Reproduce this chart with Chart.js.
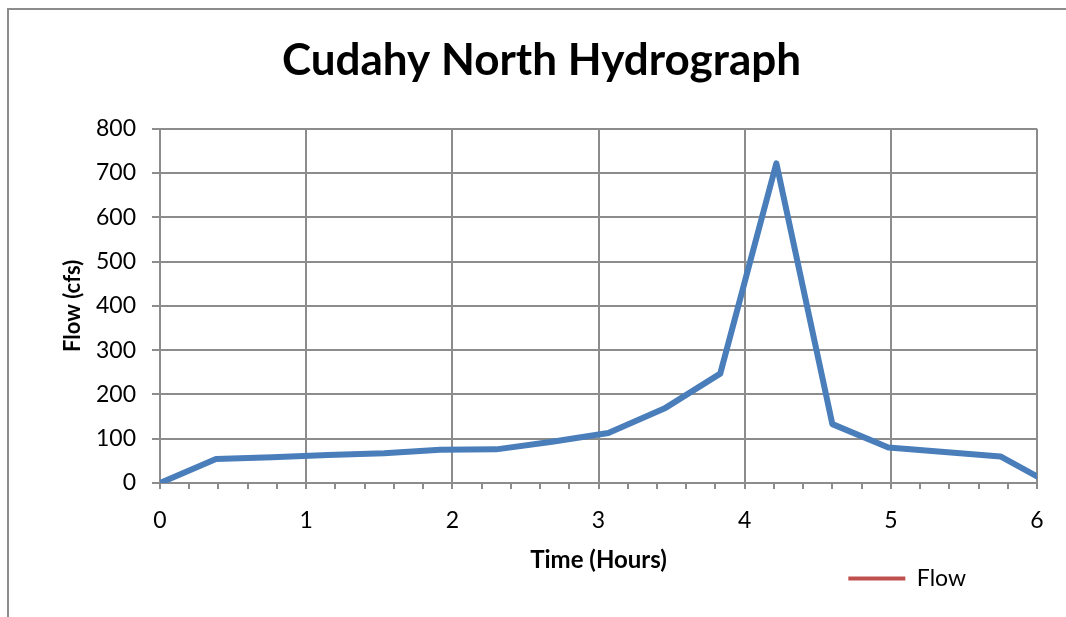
<!DOCTYPE html>
<html>
<head>
<meta charset="utf-8">
<script src="https://cdn.jsdelivr.net/npm/chart.js@4"></script>
<style>
  html, body { margin: 0; padding: 0; background: #fff; overflow: hidden; }
  canvas { display: block; }
</style>
</head>
<body>
<canvas id="Chart" width="1066" height="617"></canvas>
<script>
const timeHours = [0, 0.383, 0.767, 1.15, 1.533, 1.917, 2.3, 2.683, 3.067, 3.45, 3.833, 4.217, 4.6, 4.983, 5.367, 5.75, 6.0];
const flowCfs   = [0, 54, 58, 63, 67, 75, 76, 93, 113, 168, 247, 722, 133, 80, 70, 60, 15];
const xTickRange = [0, 6];     // horas
const yTickRange = [0, 800];   // cfs
const seriesName = 'Flow';

const GRID = '#8c8c8c';
const FONT = 'Lato, "Open Sans", sans-serif';

const points = timeHours.map((t, i) => ({ x: t, y: flowCfs[i] }));
const isWhole = v => Math.abs(v - Math.round(v)) < 1e-6;

// recoloca título y leyenda como en el original
const blockShift = {
  id: 'blockShift',
  afterLayout(chart) {
    chart.legend.right = 966;
    chart.titleBlock.left = 0;
    chart.titleBlock.right = 1083;
  },
  // marco exterior (solo se ven los bordes superior e izquierdo)
  beforeDraw(chart) {
    const c = chart.ctx;
    c.save();
    c.strokeStyle = GRID;
    c.lineWidth = 2;
    c.beginPath();
    c.moveTo(8, chart.height);
    c.lineTo(8, 9);
    c.lineTo(chart.width, 9);
    c.stroke();
    c.restore();
  }
};

const ctx = document.getElementById('Chart').getContext('2d');

const chart = new Chart(ctx, {
  type: 'line',
  data: {
    datasets: [{
      label: seriesName,
      data: points,
      borderColor: '#4a7ebb',
      borderWidth: 6,
      pointRadius: 0,
      tension: 0,
      borderJoinStyle: 'round',
      borderCapStyle: 'round'
    }]
  },
  options: {
    responsive: false,
    animation: false,
    layout: { padding: { left: 0, right: 29, top: 0, bottom: 17 } },
    plugins: {
      title: {
        display: true,
        text: 'Cudahy North Hydrograph',
        color: '#000',
        font: { family: FONT, size: 44, weight: 'bold', lineHeight: 1.2 },
        padding: { top: 34, bottom: 42 }
      },
      legend: {
        position: 'bottom',
        align: 'end',
        labels: {
          color: '#000',
          font: { family: FONT, size: 23, lineHeight: 1.0 },
          boxWidth: 57,
          boxHeight: 4,
          padding: 0,
          generateLabels: () => [{
            text: seriesName,
            fillStyle: '#c0504d',
            strokeStyle: '#c0504d',
            lineWidth: 0,
            datasetIndex: 0
          }]
        }
      },
      tooltip: { enabled: false }
    },
    scales: {
      x: {
        type: 'linear',
        min: xTickRange[0],
        max: xTickRange[1],
        afterFit: s => { s.height = 84; },
        ticks: {
          stepSize: 0.2,
          autoSkip: false,
          maxTicksLimit: 100,
          maxRotation: 0,
          padding: 18,
          color: '#000',
          font: { family: FONT, size: 23 },
          callback: v => isWhole(v) ? String(Math.round(v)) : ''
        },
        grid: {
          color: c => isWhole(c.tick.value) ? GRID : 'rgba(0,0,0,0)',
          tickColor: GRID,
          lineWidth: 2,
          tickWidth: 2,
          tickLength: 6
        },
        border: { color: GRID, width: 2 },
        title: {
          display: true,
          text: 'Time (Hours)',
          color: '#000',
          font: { family: FONT, size: 24, weight: 'bold', lineHeight: 1.0 },
          padding: { top: 0, bottom: -5 }
        }
      },
      y: {
        min: yTickRange[0],
        max: yTickRange[1],
        afterFit: s => { s.width = 160; },
        ticks: {
          stepSize: 100,
          padding: 16,
          color: '#000',
          font: { family: FONT, size: 23 }
        },
        grid: {
          color: GRID,
          lineWidth: 2,
          tickWidth: 2,
          tickLength: 8
        },
        border: { color: GRID, width: 2 },
        title: {
          display: true,
          text: 'Flow (cfs)',
          color: '#000',
          font: { family: FONT, size: 22, weight: 'bold', lineHeight: 1.2 },
          padding: { top: 60, bottom: 0 }
        }
      }
    }
  },
  plugins: [blockShift]
});
</script>
</body>
</html>
